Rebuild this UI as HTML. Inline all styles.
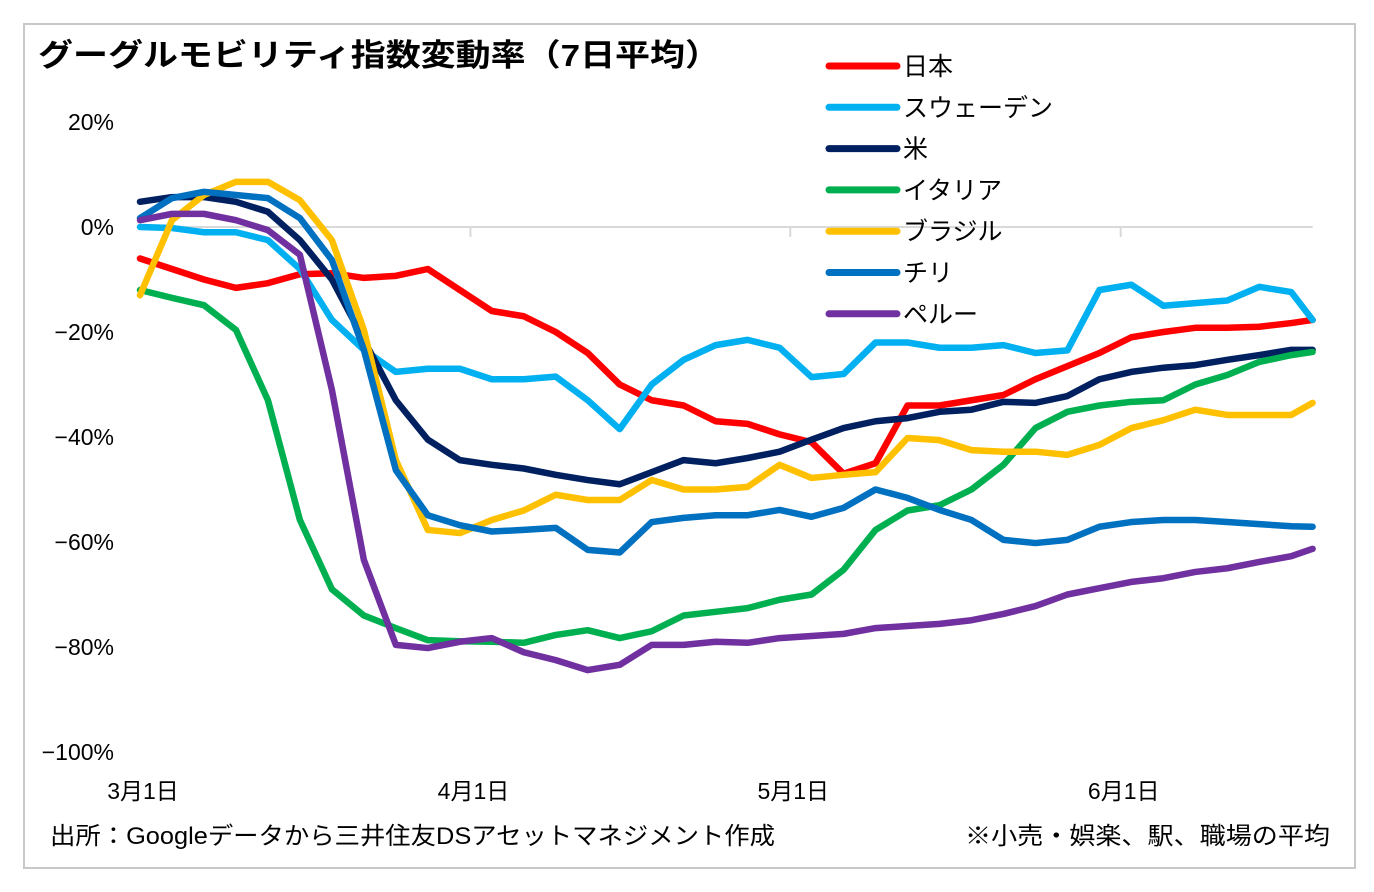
<!DOCTYPE html>
<html><head><meta charset="utf-8"><style>
body{margin:0;background:#fff;}
svg{display:block;font-family:"Liberation Sans","Noto Sans CJK JP",sans-serif;}
</style></head><body>
<svg id="chart" width="1374" height="892">
<rect x="24" y="24" width="1331" height="844" fill="#fff" stroke="#c8c8c8" stroke-width="2"/>
<text x="38" y="66" font-size="31" font-weight="bold" textLength="682" lengthAdjust="spacingAndGlyphs">グーグルモビリティ指数変動率（7日平均）</text>
<g id="grid"></g><g id="yaxis"></g><g id="xaxis"></g><g id="series"></g><g id="legend"></g>
<text x="50" y="844" font-size="24" textLength="725" lengthAdjust="spacingAndGlyphs">出所：Googleデータから三井住友DSアセットマネジメント作成</text>
<text x="965" y="844" font-size="24" textLength="365" lengthAdjust="spacingAndGlyphs">※小売・娯楽、駅、職場の平均</text>
</svg>
<script>
const days=[0,3,6,9,12,15,18,21,24,27,30,33,36,39,42,45,48,51,54,57,60,63,66,69,72,75,78,81,84,87,90,93,96,99,102,105,108,110];
const japan=[-6,-8,-10,-11.6,-10.7,-9,-8.8,-9.7,-9.3,-8,-12,-16,-17,-20,-24,-30,-33,-34,-37,-37.5,-39.5,-41,-47,-45,-34,-34,-33,-32,-29,-26.5,-24,-21,-20,-19.2,-19.2,-19,-18.3,-17.7];
const sweden=[0,-0.2,-1,-1,-2.5,-8,-17.7,-23.4,-27.6,-27,-27,-29,-29,-28.5,-33,-38.5,-30,-25.3,-22.5,-21.5,-23,-28.6,-28,-22,-22,-23,-23,-22.5,-24,-23.5,-12,-11,-15,-14.5,-14,-11.4,-12.4,-17.7];
const usa=[4.8,5.7,5.7,4.8,2.9,-2.5,-10,-21.5,-33,-40.5,-44.4,-45.3,-46,-47.2,-48.2,-49,-46.7,-44.4,-45,-44,-42.8,-40.5,-38.3,-37,-36.4,-35.2,-34.8,-33.3,-33.5,-32.2,-29,-27.6,-26.8,-26.3,-25.3,-24.4,-23.4,-23.4];
const italy=[-12,-13.5,-14.9,-19.6,-33,-55.8,-69,-74,-76.4,-78.7,-78.9,-79,-79.2,-77.7,-76.8,-78.3,-77,-74,-73.3,-72.6,-71,-70,-65.3,-57.7,-54,-53,-50,-45.3,-38.3,-35.2,-34,-33.3,-33,-30,-28.2,-25.7,-24.4,-23.8];
const brazil=[-13,1.3,6.1,8.6,8.6,5.1,-2.5,-19.6,-44.4,-57.7,-58.3,-55.8,-54,-51,-52,-52,-48.2,-50,-50,-49.5,-45.3,-47.8,-47.2,-46.7,-40.2,-40.6,-42.5,-42.8,-42.8,-43.4,-41.5,-38.3,-36.8,-34.8,-35.8,-35.8,-35.8,-33.5];
const chile=[1.7,5.5,6.7,6.1,5.5,1.7,-6.3,-23.4,-46.3,-54.9,-56.8,-58,-57.7,-57.3,-61.5,-62,-56.2,-55.4,-54.9,-54.9,-53.9,-55.2,-53.5,-50,-51.6,-53.9,-55.8,-59.6,-60.2,-59.6,-57.1,-56.2,-55.8,-55.8,-56.2,-56.6,-57,-57.1];
const peru=[1.3,2.5,2.5,1.3,-0.6,-5.3,-31,-63.4,-79.6,-80.2,-79,-78.3,-81,-82.5,-84.4,-83.4,-79.6,-79.6,-79,-79.2,-78.3,-77.9,-77.5,-76.4,-76,-75.6,-74.9,-73.7,-72.2,-70,-68.8,-67.6,-66.9,-65.7,-65,-63.8,-62.7,-61.3];
const seriesNames=["日本","スウェーデン","米","イタリア","ブラジル","チリ","ペルー"];
const yTicks=[20,0,-20,-40,-60,-80,-100];
const yTickLabels=["20%","0%","−20%","−40%","−60%","−80%","−100%"];
const xTickDays=[0,31,61,92];
const xTickLabels=["3月1日","4月1日","5月1日","6月1日"];

const NS="http://www.w3.org/2000/svg";
const X=d=>140+10.66*d;
const Y=v=>227-5.25*v;
function mk(tag,attrs,parent){const e=document.createElementNS(NS,tag);for(const k in attrs)e.setAttribute(k,attrs[k]);parent.appendChild(e);return e;}
const grid=document.getElementById('grid'),ya=document.getElementById('yaxis'),xa=document.getElementById('xaxis'),sg=document.getElementById('series'),lg=document.getElementById('legend');
let gl=mk('line',{x1:X(0),x2:X(110),y1:Y(0),y2:Y(0),stroke:'#d9d9d9','stroke-width':2},grid);


xTickDays.forEach((d,i)=>{
  if(i>0){const l=mk('line',{x1:X(d),x2:X(d),y1:Y(0),y2:Y(0)+10,stroke:'#d9d9d9','stroke-width':2},grid);
  
  }
  const t=mk('text',{x:X(d)+3,y:799,'font-size':23,'text-anchor':'middle'},xa);t.textContent=xTickLabels[i];
  
  
});
yTicks.forEach((v,i)=>{
  const t=mk('text',{x:114,y:Y(v)+8,'font-size':23,'text-anchor':'end'},ya);t.textContent=yTickLabels[i];
  
  
});
const all=[japan,sweden,usa,italy,brazil,chile,peru];
const colors=["#ff0000","#00b0f0","#002060","#00b050","#ffc000","#0070c0","#7030a0"];
const keys=["japan","sweden","usa","italy","brazil","chile","peru"];
all.forEach((s,i)=>{
  const p=mk('polyline',{points:s.map((v,j)=>X(days[j])+','+Y(v)).join(' '),fill:'none',stroke:colors[i],'stroke-width':6.5,'stroke-linejoin':'round','stroke-linecap':'round'},sg);
  
  
});
seriesNames.forEach((n,i)=>{
  const y=66+41.3*i;
  const g=mk('g',{},lg);
  
  
  mk('line',{x1:829,x2:897,y1:y,y2:y,stroke:colors[i],'stroke-width':7,'stroke-linecap':'round'},g);
  const t=mk('text',{x:903,y:y+9,'font-size':25},g);t.textContent=n;
});
</script>
</body></html>
